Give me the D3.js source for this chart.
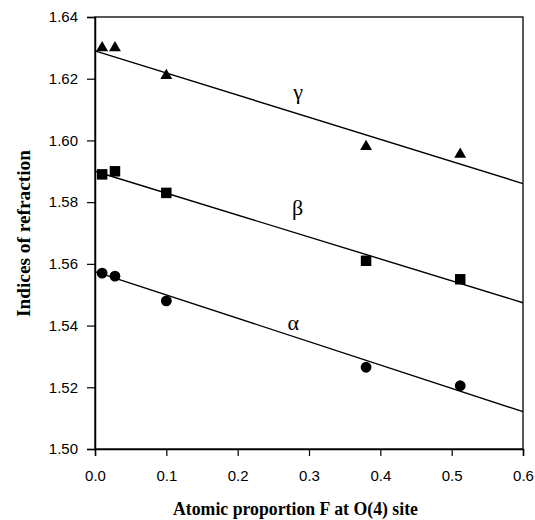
<!DOCTYPE html>
<html>
<head>
<meta charset="utf-8">
<script src="https://cdn.jsdelivr.net/npm/d3@7"></script>
<style>
  html, body { margin: 0; padding: 0; background: #fff; }
  svg { display: block; }
</style>
</head>
<body>
<svg id="chart" width="535" height="520"></svg>
<script>
// Data
const xValues = [0.010, 0.028, 0.100, 0.380, 0.512];
const gammaValues = [1.630, 1.630, 1.621, 1.598, 1.5955];
const betaValues = [1.589, 1.590, 1.583, 1.561, 1.555];
const alphaValues = [1.557, 1.556, 1.548, 1.5265, 1.5205];
// regression line ends at x = 0 and x = 0.6
const lineX = [0, 0.6];
const gammaLine = [1.629, 1.586];
const betaLine = [1.590, 1.5474];
const alphaLine = [1.5575, 1.5121];
const xTicks = [0, 0.1, 0.2, 0.3, 0.4, 0.5, 0.6];
const yTicks = [1.50, 1.52, 1.54, 1.56, 1.58, 1.60, 1.62, 1.64];
const seriesLabels = ["γ", "β", "α"];
const labelPos = [[0.2846, 1.6134], [0.2839, 1.5758], [0.278, 1.5386]];

const svg = d3.select("#chart");
const m = { left: 95, right: 523, top: 17, bottom: 449 };
const x = d3.scaleLinear().domain([0, 0.6]).range([m.left, m.right]);
const y = d3.scaleLinear().domain([1.50, 1.64]).range([m.bottom, m.top]);

// frame
svg.append("rect").attr("x", m.left).attr("y", m.top)
  .attr("width", m.right - m.left).attr("height", m.bottom - m.top)
  .attr("fill", "none").attr("stroke", "#000").attr("stroke-width", 1.3);

const xAxis = svg.append("g").attr("transform", `translate(0,${m.bottom})`)
  .call(d3.axisBottom(x).tickValues(xTicks).tickFormat(d3.format(".1f")).tickSize(7).tickPadding(14));
const yAxis = svg.append("g").attr("transform", `translate(${m.left},0)`)
  .call(d3.axisLeft(y).tickValues(yTicks).tickFormat(d3.format(".2f")).tickSize(8).tickPadding(9));
xAxis.selectAll("text").attr("dy", "0.71em").attr("y", 21);
[xAxis, yAxis].forEach(g => {
  g.select(".domain").attr("stroke-width", 1.5);
  g.selectAll(".tick line").attr("stroke-width", 1.2);
  g.selectAll("text").attr("font-family", "Liberation Sans, Arial, sans-serif")
    .attr("font-size", 15).attr("fill", "#000");
});

// lines
const line = d3.line().x(d => x(d[0])).y(d => y(d[1]));
[gammaLine, betaLine, alphaLine].forEach(L => {
  svg.append("path").datum(lineX.map((v, i) => [v, L[i]]))
    .attr("d", line).attr("fill", "none").attr("stroke", "#000").attr("stroke-width", 1.4);
});

// markers
const shapes = [d3.symbolTriangle, d3.symbolSquare, d3.symbolCircle];
const sizes = [62, 110, 92];
[gammaValues, betaValues, alphaValues].forEach((vals, s) => {
  svg.append("g").selectAll("path").data(vals).join("path")
    .attr("transform", (d, i) => `translate(${x(xValues[i])},${y(d)})`)
    .attr("d", d3.symbol().type(shapes[s]).size(sizes[s]))
    .attr("fill", "#000");
});

// series labels
seriesLabels.forEach((t, i) => {
  svg.append("text").attr("x", x(labelPos[i][0])).attr("y", y(labelPos[i][1]))
    .attr("text-anchor", "middle")
    .attr("font-family", "Liberation Serif, Times New Roman, serif")
    .attr("font-size", 22).attr("fill", "#000").text(t);
});

// axis titles
svg.append("text").attr("x", 173).attr("y", 515)
  .attr("font-family", "Liberation Serif, Times New Roman, serif")
  .attr("font-weight", "bold").attr("font-size", 18)
  .attr("textLength", 245).attr("lengthAdjust", "spacingAndGlyphs")
  .text("Atomic proportion F at O(4) site");
svg.append("text").attr("transform", `translate(30,317) rotate(-90)`)
  .attr("font-family", "Liberation Serif, Times New Roman, serif")
  .attr("font-weight", "bold").attr("font-size", 18)
  .attr("textLength", 167).attr("lengthAdjust", "spacingAndGlyphs")
  .text("Indices of refraction");
</script>
</body>
</html>
